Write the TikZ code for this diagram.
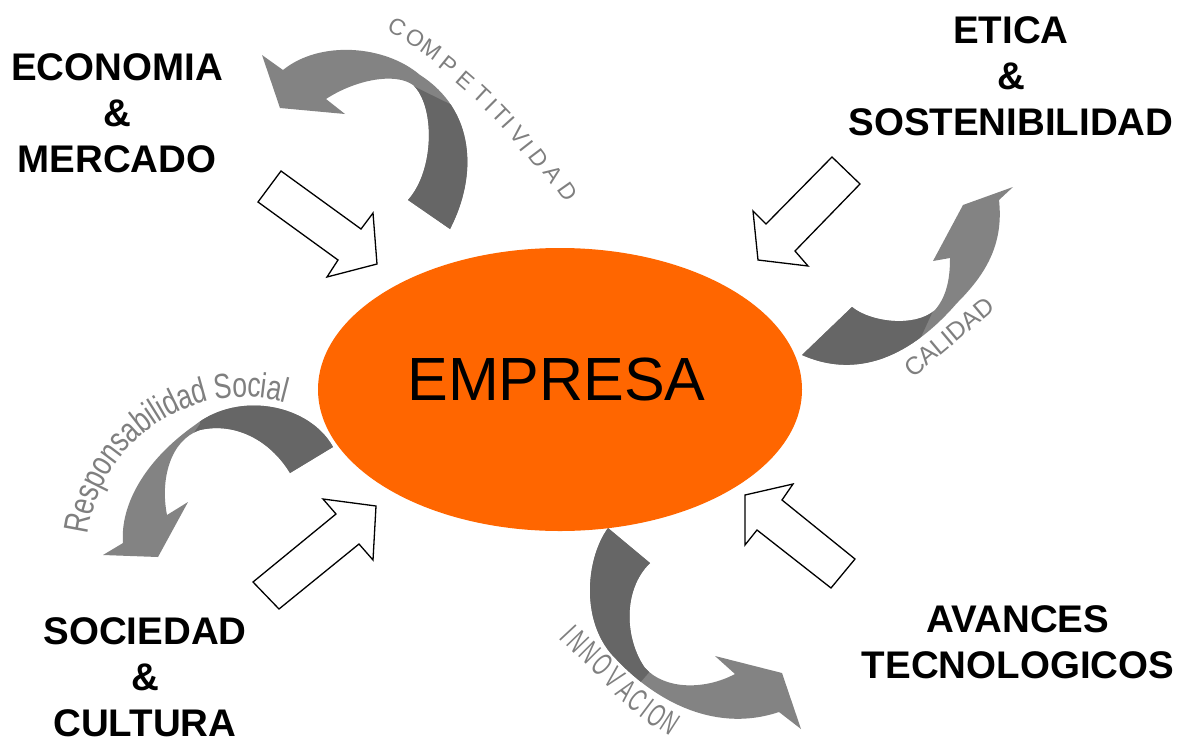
\documentclass[tikz,border=0pt]{standalone}
\usepackage{fontspec}
\setmainfont{Liberation Sans}
\usetikzlibrary{shapes.geometric}
\definecolor{orng}{HTML}{FF6600}
\definecolor{lgray}{HTML}{838383}
\definecolor{dgray}{HTML}{666666}
\definecolor{tgray}{HTML}{7F7F7F}
\begin{document}
\begin{tikzpicture}[x=1pt,y=-1pt,
  blockarrow/.style={draw=black, line width=1.3pt, fill=white, line join=miter},
  lightband/.style={fill=lgray},
  darkband/.style={fill=dgray},
  biglabel/.style={font=\fontsize{38.5}{46}\selectfont\bfseries, anchor=base, inner sep=0pt},
  comp/.style={font=\fontsize{23}{23}\selectfont, text=tgray, inner sep=0pt},
  inno/.style={font=\fontsize{32}{32}\selectfont, text=tgray, inner sep=0pt},
  cali/.style={font=\fontsize{25}{25}\selectfont, text=tgray, inner sep=0pt},
  resp/.style={font=\fontsize{28}{28}\selectfont, text=tgray, inner sep=0pt, anchor=base}
]
\useasboundingbox (0,0) rectangle (1191,742);

% ---------- curved ribbon arrows ----------
\def\comppath{(408,200) -- (450,229) .. controls (478,175) and (475,110) .. (420,75)
  .. controls (385,45) and (320,40) .. (283,70) -- (262,55) -- (280,108) -- (345,114) -- (326,99)
  .. controls (355,80) and (395,72) .. (413,85) .. controls (435,105) and (435,170) .. (408,200) -- cycle}
\def\calipath{(802,355) -- (852,307) .. controls (870,322) and (915,328) .. (935,310)
  .. controls (948,295) and (950,275) .. (950,258) -- (933,261) -- (963,205) -- (1013,187) -- (999,200)
  .. controls (1004,245) and (985,275) .. (957,303) .. controls (925,340) and (870,385) .. (802,355) -- cycle}
\def\resppath{(333,447) .. controls (310,405) and (240,390) .. (195,425)
  .. controls (145,460) and (120,505) .. (123,543) -- (103,555) -- (158,557) -- (188,502) -- (167,515)
  .. controls (160,480) and (170,440) .. (200,430) .. controls (235,422) and (270,440) .. (290,473) -- cycle}
\def\innopath{(608,528) .. controls (585,560) and (580,625) .. (617,660)
  .. controls (650,695) and (710,735) .. (779,712) -- (801,729) -- (782,673) -- (715,656) -- (735,674)
  .. controls (705,690) and (665,690) .. (645,668) .. controls (625,640) and (622,590) .. (650,563) -- cycle}

\fill[lightband] \comppath;
\begin{scope}
  \clip \comppath;
  \fill[darkband] (380,90) -- (405,82) -- (458,108) -- (520,150) -- (520,260) -- (380,260) -- cycle;
\end{scope}

\fill[lightband] \calipath;
\begin{scope}
  \clip \calipath;
  \fill[darkband] (780,290) -- (938,300) -- (915,350) -- (780,400) -- cycle;
\end{scope}

\fill[lightband] \resppath;
\begin{scope}
  \clip \resppath;
  \fill[darkband] (200,380) -- (200,424) -- (189,440) -- (300,520) -- (360,520) -- (360,380) -- cycle;
\end{scope}

\fill[lightband] \innopath;
\begin{scope}
  \clip \innopath;
  \fill[darkband] (560,500) -- (720,500) -- (720,600) -- (658,662) -- (632,692) -- (560,692) -- cycle;
\end{scope}

% ---------- central ellipse ----------
\node[ellipse, fill=orng, minimum width=484pt, minimum height=283pt, inner sep=0pt] (emp) at (560,389.5) {};
\node[font=\fontsize{61}{61}\selectfont, anchor=base, inner sep=0pt] (emptext) at (556.5,400) {EMPRESA};

% ---------- block arrows ----------
\draw[blockarrow] (281,171) -- (361,229) -- (373,213) -- (377,264) -- (327,277) -- (338,260) -- (258,202) -- cycle;
\draw[blockarrow] (832,157) -- (860,184) -- (795,251) -- (808,266) -- (758,260) -- (753,211) -- (766,224) -- cycle;
\draw[blockarrow] (253,582) -- (336,514) -- (323,499) -- (376,506) -- (373,560) -- (359,544) -- (279,609) -- cycle;
\draw[blockarrow] (745,495) -- (793,484) -- (782,500) -- (855,559) -- (831,588) -- (757,530) -- (745,545) -- cycle;

% ---------- labels ----------
\node[biglabel] (eco1) at (117,80) {ECONOMIA};
\node[biglabel] (eco2) at (117,126) {\&};
\node[biglabel] (eco3) at (117,172) {MERCADO};
\node[biglabel] (eti1) at (1011,43) {ETICA};
\node[biglabel] (eti2) at (1011,89) {\&};
\node[biglabel] (eti3) at (1011,135) {SOSTENIBILIDAD};
\node[biglabel] (ava1) at (1018,632) {AVANCES};
\node[biglabel] (ava2) at (1018,678) {TECNOLOGICOS};
\node[biglabel] (soc1) at (145,644) {SOCIEDAD};
\node[biglabel] (soc2) at (145,690) {\&};
\node[biglabel] (soc3) at (145,736) {CULTURA};

% ---------- curved texts ----------
\foreach \ch/\px/\py/\ang [count=\i] in {C/397/27/-27, O/415/38/-31, M/431/50/-35, P/448/65/-39,
  E/465/81/-41, T/482/95/-43, I/491/105/-45, T/501/114/-46, I/509/123/-48, V/519/135/-50,
  I/527/146/-52, D/539/158/-53, A/553/174/-54, D/568/192/-55}
  \node[comp, rotate=\ang] (comp\i) at (\px,\py) {\ch};

\foreach \ch/\px/\py/\ang [count=\i] in {I/568/633/-47, N/578/642/-46, N/590/653/-45, O/603/665/-44,
  V/615/678/-43, A/627/690/-41, C/638/700/-39, I/647/708/-37, O/657/716/-35, N/670/723/-33}
  \node[inno, rotate=\ang] (inno\i) at (\px,\py) {\scalebox{0.6}[1]{\ch}};

\node[cali, rotate=40] (cali) at (949,337) {CALIDAD};

\foreach \ch/\c [count=\i] in {R/0.361, e/1.0, s/1.528, p/2.056, o/2.612, n/3.168, s/3.696, a/4.224,
  b/4.78, i/5.169, l/5.391, i/5.613, d/6.002, a/6.558, d/7.114, S/8.0035, o/8.615, c/9.143,
  i/9.504, a/9.893, l/10.282}
{
  \pgfmathsetmacro\ra{172.9-\c*9.45}
  \node[resp, rotate=\ra-90] (resp\i) at ({244+157*cos(\ra)},{554-157*sin(\ra)}) {\scalebox{0.95}[1.25]{\ch}};
}
\end{tikzpicture}
\end{document}
